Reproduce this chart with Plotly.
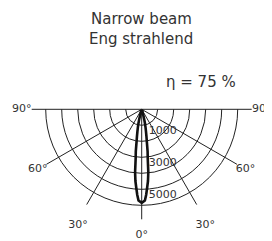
import plotly.graph_objects as go

# Luminous intensity distribution (cd/klm), symmetric around 0° (nadir)
angles_half = [0, 2, 3, 4, 5, 6, 7, 8, 9, 10, 11, 12, 13, 14, 15, 17, 20, 25]
intensity_half = [5850, 5700, 5350, 4900, 4500, 3950, 3100, 2650, 2050, 1700,
                  1400, 1150, 900, 650, 400, 200, 80, 0]

radial_ticks = [1000, 2000, 3000, 4000, 5000, 6000]
radial_label_vals = [1000, 3000, 5000]
radial_labels = ["1000", "3000", "5000"]
angle_ticks = [-90, -60, -30, 0, 30, 60, 90]
angle_labels = ["90°", "60°", "30°", "0°", "30°", "60°", "90°"]

title_lines = ["Narrow beam", "Eng strahlend"]
efficiency = "η = 75 %"

# closed curve: mirror the half distribution
ang = [-a for a in reversed(angles_half)] + angles_half[1:]
r = list(reversed(intensity_half)) + intensity_half[1:]

# angular axis: plot angle = 90 + angle from nadir (0 = left horizontal)
OFFSET = 90
theta = [a + OFFSET for a in ang]

FONT = "DejaVu Sans"
TXT = "#333333"
GRID = "#222222"
R_MAX = 6875          # radial extent of the spokes
R_LABEL = 7500        # radius where the angle labels sit
R_LABEL_LOW = 7950    # the 30° labels sit a little further out
R_OUTER = 8200        # extent of the (invisible) label layer

# the page body has an 8px margin: figure is drawn at (8, 8) in the window
PAGE = 8
W, H = 272 - PAGE, 241 - PAGE
CX, CY = 141.7 - PAGE, 109.3 - PAGE     # diagram centre in figure pixels
RPX = 110                               # pixel radius of R_MAX

def domain(rmax):
    rad = RPX * rmax / R_MAX
    return dict(x=[(CX - rad) / W, (CX + rad) / W],
                y=[max(0, 1 - (CY + rad) / H), 1 - CY / H])

fig = go.Figure()
fig.add_trace(go.Scatterpolar(
    theta=theta, r=r, mode="lines",
    line=dict(color="#111111", width=2.6),
    showlegend=False, hoverinfo="skip", subplot="polar",
))
# radial value labels next to the 0° spoke
fig.add_trace(go.Scatterpolar(
    theta=[OFFSET] * len(radial_label_vals), r=radial_label_vals,
    mode="text", text=["\u00a0\u00a0" + t for t in radial_labels],
    textposition="bottom right",
    textfont=dict(size=11, color=TXT, family=FONT),
    showlegend=False, hoverinfo="skip", cliponaxis=False, subplot="polar",
))
# angle labels around the diagram (on an invisible, larger polar layer)
fig.add_trace(go.Scatterpolar(
    theta=[t + OFFSET for t in angle_ticks],
    r=[R_LABEL_LOW if abs(t) == 30 else R_LABEL for t in angle_ticks],
    mode="text", text=angle_labels,
    textposition=["bottom center" if abs(t) in (0, 30) else "middle center"
                  for t in angle_ticks],
    textfont=dict(size=11, color=TXT, family=FONT),
    showlegend=False, hoverinfo="skip", cliponaxis=False, subplot="polar2",
))

hidden_ang = dict(rotation=180, direction="counterclockwise", visible=False,
                  showgrid=False, showline=False, showticklabels=False, ticks="")

fig.update_layout(
    width=W, height=H,
    margin=dict(l=0, r=0, t=0, b=0, pad=0),
    paper_bgcolor="white",
    font=dict(family=FONT, color=TXT),
    polar=dict(
        domain=domain(R_MAX),
        bgcolor="white",
        sector=[180, 360],
        angularaxis=dict(
            rotation=180, direction="counterclockwise",
            tickmode="linear", tick0=0, dtick=30,
            showticklabels=False,
            showgrid=True, gridcolor=GRID, gridwidth=0.8,
            showline=False, ticks="",
        ),
        radialaxis=dict(
            range=[0, R_MAX], angle=270,
            tickmode="array", tickvals=radial_ticks,
            showticklabels=False,
            showgrid=True, gridcolor=GRID, gridwidth=0.8,
            showline=False, ticks="",
        ),
    ),
)

# invisible outer layer: same centre and scale, larger range, for the labels
rad2 = min(RPX * R_OUTER / R_MAX, CX, W - CX, H - CY)
r_outer_fit = rad2 * R_MAX / RPX
fig.update_layout(polar2=dict(
    domain=dict(x=[(CX - rad2) / W, (CX + rad2) / W],
                y=[1 - (CY + rad2) / H, 1 - CY / H]),
    bgcolor="rgba(0,0,0,0)",
    sector=[180, 360],
    angularaxis=hidden_ang,
    radialaxis=dict(range=[0, r_outer_fit], visible=False, showgrid=False,
                    showline=False, showticklabels=False, ticks=""),
))

def ann(text, sx, sy, anchor):
    # sx, sy: position in the window's pixels
    px, py = sx - PAGE, sy - PAGE
    return dict(text=text, x=px / W, y=1 - py / H,
                xref="paper", yref="paper", xanchor=anchor, yanchor="middle",
                showarrow=False, font=dict(size=15, color=TXT, family=FONT))

fig.update_layout(annotations=[
    ann(title_lines[0], 141, 19, "center"),
    ann(title_lines[1], 141, 39, "center"),
    ann(efficiency, 238, 82, "right"),
])

fig.write_html("out.html")
